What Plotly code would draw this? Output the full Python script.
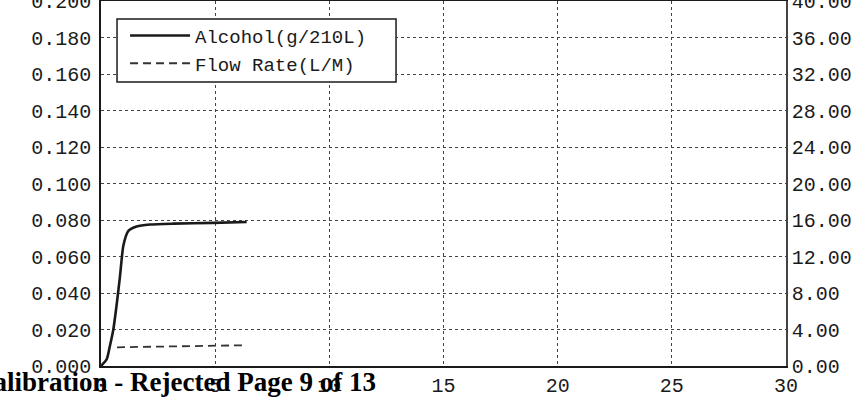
import plotly.graph_objects as go

# Data
alc_time = [0, 0.25, 0.39, 0.54, 0.68, 0.83, 0.98, 1.2, 1.56, 2.14, 3.16, 4.9, 6.38]
alc_val = [0.0, 0.0037, 0.011, 0.020, 0.033, 0.049, 0.066, 0.074, 0.0764, 0.0775, 0.078, 0.0784, 0.0789]
flow_time = [0.7, 2.0, 3.5, 5.0, 6.2]
flow_val = [2.05, 2.1, 2.15, 2.2, 2.27]

x_ticks = [0, 5, 10, 15, 20, 25, 30]
y_ticks = [0.0, 0.02, 0.04, 0.06, 0.08, 0.10, 0.12, 0.14, 0.16, 0.18, 0.20]
y2_ticks = [0, 4, 8, 12, 16, 20, 24, 28, 32, 36, 40]

MONO = "Liberation Mono"
INK = "#1a1a1a"

fig = go.Figure()
fig.add_trace(go.Scatter(x=alc_time, y=alc_val, mode="lines", name="Alcohol(g/210L)",
                         line=dict(color=INK, width=2.6, shape="spline", smoothing=0.6)))
fig.add_trace(go.Scatter(x=flow_time, y=flow_val, mode="lines", name="Flow Rate(L/M)",
                         yaxis="y2", line=dict(color="#333333", width=1.8, dash="8px,5px")))

fig.update_layout(
    width=866, height=410,
    margin=dict(l=101, r=80, t=1, b=44, autoexpand=False),
    paper_bgcolor="white", plot_bgcolor="white",
    font=dict(family=MONO, size=20, color=INK),
    showlegend=True,
    legend=dict(x=0.0351, y=0.957, xanchor="left", yanchor="top",
                bgcolor="rgba(0,0,0,0)", borderwidth=0,
                font=dict(family=MONO, size=19, color=INK),
                tracegroupgap=0, itemwidth=60),
    xaxis=dict(range=[0, 30], tickvals=x_ticks, ticktext=[str(v) for v in x_ticks],
               showgrid=True, gridcolor="#444444", griddash="dot", gridwidth=1,
               showline=True, linecolor=INK, linewidth=1.5, mirror=True,
               zeroline=False, ticks="", ticklen=0, automargin=False,
               ticklabeloverflow="allow"),
    yaxis=dict(range=[0, 0.2], tickvals=y_ticks, ticktext=[f"{v:.3f}" for v in y_ticks],
               showgrid=True, gridcolor="#444444", griddash="dot", gridwidth=1,
               showline=True, linecolor=INK, linewidth=1.5,
               zeroline=False, ticks="", ticklen=0, ticklabelstandoff=4, automargin=False,
               ticklabeloverflow="allow"),
    yaxis2=dict(range=[0, 40], tickvals=y2_ticks, ticktext=[f"{v:.2f}" for v in y2_ticks],
                overlaying="y", side="right", showgrid=False,
                showline=True, linecolor="#444444", linewidth=1.5,
                zeroline=False, ticks="", ticklen=0, automargin=False,
                ticklabeloverflow="allow"),
)

# legend frame (white box with black border behind the legend entries)
fig.add_shape(type="rect", xref="paper", yref="paper",
              x0=0.0234, x1=0.4307, y0=0.778, y1=0.9507,
              fillcolor="white", line=dict(color=INK, width=1.5), layer="above")

fig.add_annotation(text="<b>Calibration - Rejected Page 9 of 13</b>", xref="paper", yref="paper",
                   x=0.4044, y=-0.045, xanchor="right", yanchor="middle", showarrow=False,
                   font=dict(family="Liberation Serif", size=27, color="black"))

fig.write_html("out.html", config={"displayModeBar": False},
               post_script="document.body.style.margin='0';")
